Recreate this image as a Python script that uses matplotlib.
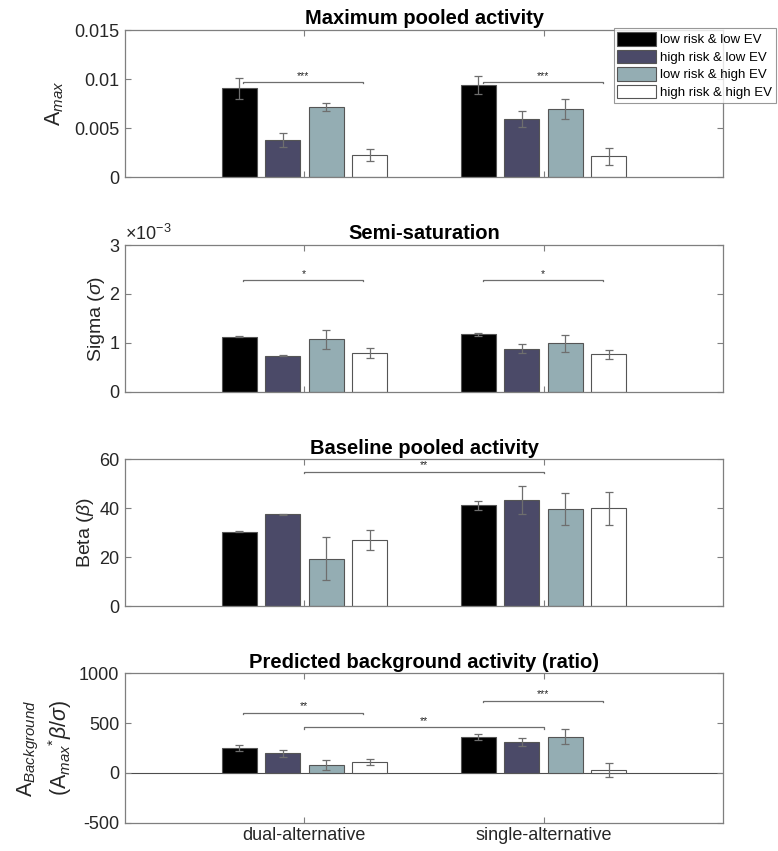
import matplotlib
matplotlib.use('Agg')
import matplotlib.pyplot as plt
from matplotlib.ticker import FuncFormatter
from matplotlib.patches import Patch
import numpy as np

# data
conditions = ['dual-alternative', 'single-alternative']
series_names = ['low risk & low EV', 'high risk & low EV', 'low risk & high EV', 'high risk & high EV']
series_colors = ['#000000', '#4b4a68', '#94adb3', '#ffffff']

amax_mean = [[0.00905, 0.00939], [0.00378, 0.00589], [0.00711, 0.00697], [0.00224, 0.00211]]
amax_err = [[0.0011, 0.0009], [0.0007, 0.0008], [0.0004, 0.0010], [0.0006, 0.0009]]

sigma_mean = [[1.13e-3, 1.18e-3], [0.74e-3, 0.88e-3], [1.075e-3, 0.99e-3], [0.79e-3, 0.77e-3]]
sigma_err = [[0.01e-3, 0.03e-3], [0.01e-3, 0.09e-3], [0.20e-3, 0.17e-3], [0.10e-3, 0.09e-3]]

beta_mean = [[30.5, 41.2], [37.5, 43.4], [19.4, 39.6], [27.1, 40.0]]
beta_err = [[0.3, 1.8], [0.4, 5.6], [8.8, 6.5], [3.9, 6.8]]

bg_mean = [[253, 360], [196, 309], [82, 363], [112, 32]]
bg_err = [[30, 33], [37, 44], [50, 77], [30, 70]]

titles = ['Maximum pooled activity', 'Semi-saturation', 'Baseline pooled activity',
          'Predicted background activity (ratio)']
ylims = [(0, 0.015), (0, 3e-3), (0, 60), (-500, 1000)]
yticks = [[0, 0.005, 0.01, 0.015], [0, 1e-3, 2e-3, 3e-3], [0, 20, 40, 60], [-500, 0, 500, 1000]]

# significance brackets: (x start, x end, height, stars)
sig_amax = [(0.745, 1.247, 0.0097, '***'), (1.745, 2.247, 0.0097, '***')]
sig_sigma = [(0.745, 1.247, 2.29e-3, '*'), (1.745, 2.247, 2.29e-3, '*')]
sig_beta = [(1.0, 2.0, 55, '**')]
sig_bg = [(0.745, 1.247, 604, '**'), (1.0, 2.0, 460, '**'), (1.745, 2.247, 725, '***')]

plt.rcParams['font.family'] = ['Liberation Sans', 'DejaVu Sans']
plt.rcParams['mathtext.fontset'] = 'custom'
plt.rcParams['mathtext.rm'] = 'Liberation Sans'
plt.rcParams['mathtext.it'] = 'Liberation Sans:italic'

spine_col = '#7f7f7f'
text_col = '#262626'

fig = plt.figure(figsize=(7.78, 8.51), dpi=100)
lefts = 0.1607
width = 0.7686
bottoms = [0.792, 0.5394, 0.2875, 0.0333]
heights = [0.1727, 0.1727, 0.1727, 0.1756]

means = [amax_mean, sigma_mean, beta_mean, bg_mean]
errs = [amax_err, sigma_err, beta_err, bg_err]
sigs = [sig_amax, sig_sigma, sig_beta, sig_bg]
ylabels = [r'$\mathrm{A}_{max}$', r'Sigma ($\sigma$)', r'Beta ($\beta$)',
           r'$\mathrm{A}_{Background}$' + '\n' + r'($\mathrm{A}_{max}{}^{*}\beta/\sigma$)']
ylabel_sizes = [15.5, 14, 14, 15.5]
ylabel_pads = [6, 2, 2, 4]

x = np.arange(1, len(conditions) + 1)
nb = len(series_names)
step = min(0.8, nb / (nb + 1.5)) / nb
bw = step * 0.8

axes = []
for i in range(4):
    ax = fig.add_axes([lefts, bottoms[i], width, heights[i]])
    axes.append(ax)
    ylo, yhi = ylims[i]
    for k in range(nb):
        pos = x + (k - (nb - 1) / 2) * step
        ax.bar(pos, means[i][k], width=bw, color=series_colors[k], edgecolor='#555555',
               linewidth=0.8, zorder=2)
        ax.errorbar(pos, means[i][k], yerr=errs[i][k], fmt='none', ecolor='#6e6e6e',
                    elinewidth=0.9, capsize=3, capthick=0.9, zorder=3)
    d = (yhi - ylo) * 0.01
    for x0, x1, h, s in sigs[i]:
        ax.plot([x0, x0, x1, x1], [h - d, h, h, h - d], color='#6e6e6e', lw=0.9, zorder=3)
        ax.text((x0 + x1) / 2, h + d * 0.8, s, ha='center', va='bottom', fontsize=7.5,
                color=text_col)
    if ylo < 0:
        ax.axhline(0, color='#4d4d4d', lw=0.8, zorder=1)
    ax.set_xlim(0.25, 2.75)
    ax.set_ylim(ylo, yhi)
    ax.set_yticks(yticks[i])
    ax.set_xticks(x)
    if i == 3:
        ax.set_xticklabels(conditions, fontsize=12, color=text_col)
    else:
        ax.set_xticklabels([])
    ax.tick_params(direction='in', length=4, width=0.8, colors=spine_col, labelcolor=text_col,
                   labelsize=13, top=True, right=True, pad=4)
    ax.tick_params(axis='x', pad=3)
    for sp in ax.spines.values():
        sp.set_color(spine_col)
        sp.set_linewidth(0.9)
    ax.set_title(titles[i], fontsize=14.5, fontweight='bold', color='black', pad=4)
    ax.set_ylabel(ylabels[i], fontsize=ylabel_sizes[i], color=text_col, labelpad=ylabel_pads[i])

axes[0].yaxis.set_major_formatter(FuncFormatter(lambda v, p: '%g' % v))
axes[1].yaxis.set_major_formatter(FuncFormatter(lambda v, p: '%g' % (v * 1e3)))
axes[1].text(0.0, 1.01, r'$\times10^{-3}$', transform=axes[1].transAxes, fontsize=13,
             color=text_col, ha='left', va='bottom')
axes[3].yaxis.set_major_formatter(FuncFormatter(lambda v, p: '%g' % v))

handles = [Patch(facecolor=c, edgecolor='#555555', linewidth=0.8) for c in series_colors]
leg = fig.legend(handles, series_names, loc='upper right', bbox_to_anchor=(0.997, 0.967),
                 fontsize=9.5, frameon=True, fancybox=False, handlelength=2.9, handleheight=1.2,
                 handletextpad=0.3, borderpad=0.3, labelspacing=0.25, borderaxespad=0)
leg.get_frame().set_edgecolor(spine_col)
leg.get_frame().set_linewidth(0.8)

fig.savefig('out.png', dpi=100)
